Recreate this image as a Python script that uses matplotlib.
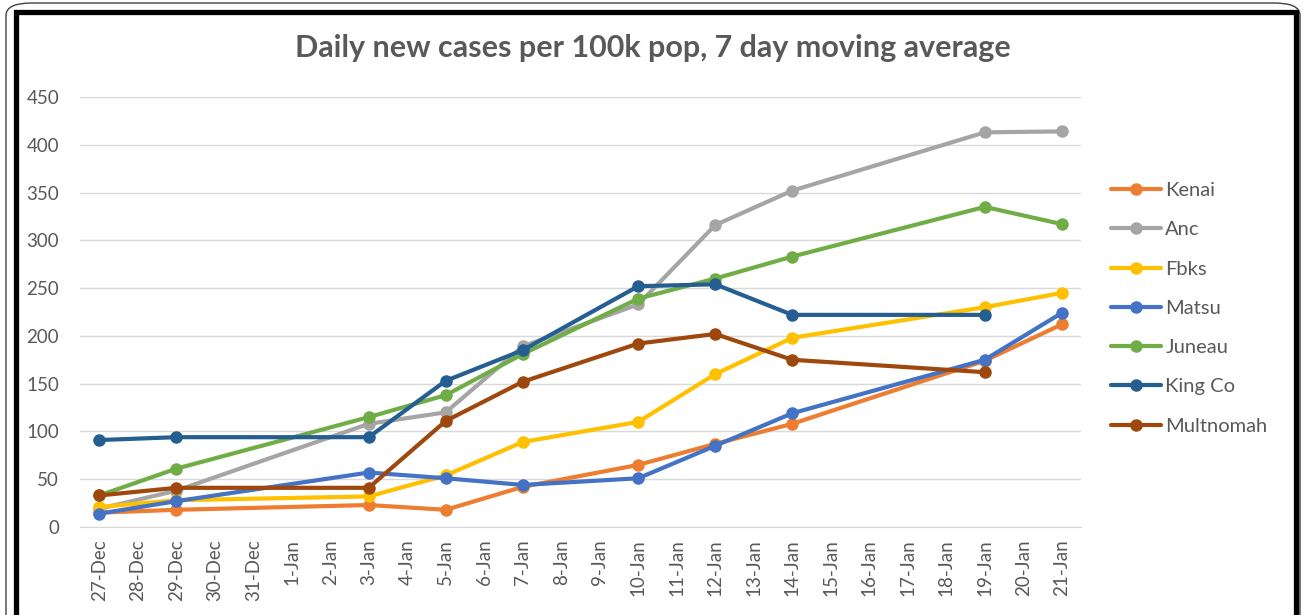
import matplotlib.pyplot as plt
from matplotlib.patches import Rectangle, FancyBboxPatch

plt.rcParams['font.family'] = ['Lato', 'DejaVu Sans']

# category axis: every day from 27-Dec to 21-Jan
day_labels = ['27-Dec', '28-Dec', '29-Dec', '30-Dec', '31-Dec', '1-Jan', '2-Jan',
              '3-Jan', '4-Jan', '5-Jan', '6-Jan', '7-Jan', '8-Jan', '9-Jan',
              '10-Jan', '11-Jan', '12-Jan', '13-Jan', '14-Jan', '15-Jan',
              '16-Jan', '17-Jan', '18-Jan', '19-Jan', '20-Jan', '21-Jan']

# days with data
sample_days = ['27-Dec', '29-Dec', '3-Jan', '5-Jan', '7-Jan', '10-Jan',
               '12-Jan', '14-Jan', '19-Jan', '21-Jan']

kenai = [15, 18, 23, 18, 42, 65, 87, 108, 174, 212]
anc = [19, 38, 108, 120, 189, 233, 316, 352, 413, 414]
fbks = [21, 28, 32, 54, 89, 110, 160, 198, 230, 245]
matsu = [14, 27, 57, 51, 44, 51, 85, 119, 175, 224]
juneau = [33, 61, 115, 138, 181, 239, 260, 283, 335, 317]
king_co = [91, 94, 94, 153, 185, 252, 254, 222, 222, None]
multnomah = [33, 41, 41, 111, 152, 192, 202, 175, 162, None]

series = [
    ('Kenai', kenai, '#ED7D31'),
    ('Anc', anc, '#A5A5A5'),
    ('Fbks', fbks, '#FFC000'),
    ('Matsu', matsu, '#4472C4'),
    ('Juneau', juneau, '#70AD47'),
    ('King Co', king_co, '#255E91'),
    ('Multnomah', multnomah, '#9E480E'),
]

fig = plt.figure(figsize=(13.03, 6.15), dpi=100)
ax = fig.add_axes([80 / 1303, 88 / 615, 1001 / 1303, 430 / 615])

xpos = [day_labels.index(d) for d in sample_days]
for name, vals, color in series:
    pts = [(x, v) for x, v in zip(xpos, vals) if v is not None]
    ax.plot([p[0] for p in pts], [p[1] for p in pts], color=color, lw=3.0,
            marker='o', markersize=8, label=name, solid_capstyle='round')

ax.set_xlim(-0.5, len(day_labels) - 0.5)
ax.set_ylim(0, 450)
ax.set_yticks(range(0, 451, 50))
ax.set_xticks(range(len(day_labels)))
ax.set_xticklabels(day_labels, rotation=90)
ax.tick_params(axis='both', length=0, colors='#595959')
ax.tick_params(axis='x', pad=9, labelsize=13.5)
ax.tick_params(axis='y', pad=15, labelsize=13.5)
ax.grid(axis='y', color='#D9D9D9', lw=1)
ax.set_axisbelow(True)
for side in ['top', 'right', 'left']:
    ax.spines[side].set_visible(False)
ax.spines['bottom'].set_color('#D9D9D9')

fig.text(653 / 1303, 1 - 48 / 615, 'Daily new cases per 100k pop, 7 day moving average',
         ha='center', va='center', fontsize=22, fontweight='bold', color='#595959')

fig.legend(loc='upper left', bbox_to_anchor=(1111 / 1303, 1 - 182 / 615),
           frameon=False, fontsize=14.5, labelcolor='#595959',
           borderpad=0, borderaxespad=0,
           handlelength=2.5, handletextpad=0.2, labelspacing=1.1)

# sheet frame around the chart
fig.patches.append(FancyBboxPatch((6 / 1303, -0.2), 1294 / 1303, 1.2 - 3 / 615,
                                  boxstyle='round,pad=0,rounding_size=0.02',
                                  transform=fig.transFigure, fill=False,
                                  ec='#404040', lw=1))
fig.patches.append(Rectangle((16 / 1303, -0.1), 1280 / 1303, 1.1 - 12 / 615,
                             transform=fig.transFigure, fill=False,
                             ec='black', lw=3.8))

fig.savefig('out.png', dpi=100)
